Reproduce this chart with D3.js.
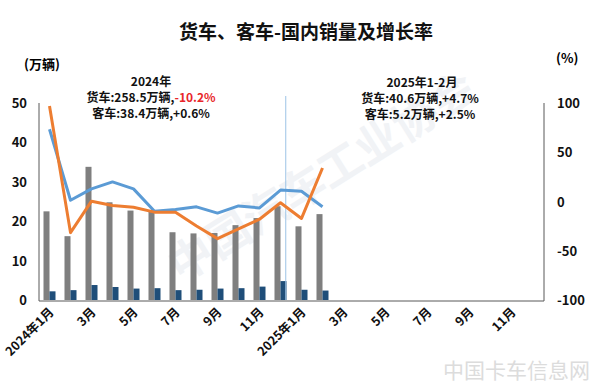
<!DOCTYPE html>
<html lang="zh">
<head>
<meta charset="utf-8">
<title>货车、客车-国内销量及增长率</title>
<script src="https://d3js.org/d3.v7.min.js"></script>
<style>
  body { margin: 0; background: #fff; }
  text { font-family: "Noto Sans CJK SC", "Open Sans", sans-serif; font-weight: bold; }
</style>
</head>
<body>
<script>
// month keys 2024-01 .. 2025-12 and their axis labels
const monthKeys = ["2024-01","2024-02","2024-03","2024-04","2024-05","2024-06","2024-07","2024-08","2024-09","2024-10","2024-11","2024-12",
                   "2025-01","2025-02","2025-03","2025-04","2025-05","2025-06","2025-07","2025-08","2025-09","2025-10","2025-11","2025-12"];
const monthLabels = ["2024年1月","2月","3月","4月","5月","6月","7月","8月","9月","10月","11月","12月",
                     "2025年1月","2月","3月","4月","5月","6月","7月","8月","9月","10月","11月","12月"];
// 货车 sales (万辆)
const truckSales = [22.5, 16.2, 33.8, 24.8, 22.7, 22.4, 17.2, 16.9, 17.0, 19.0, 20.8, 23.8, 18.7, 21.8];
// 客车 sales (万辆)
const busSales = [2.2, 2.5, 3.8, 3.3, 2.9, 3.0, 2.5, 2.6, 2.9, 3.0, 3.4, 4.8, 2.6, 2.4];
// growth rates (%)
const truckGrowth = [97, -31.6, 0.3, -4, -5.8, -10.8, -11, -24.9, -37.7, -27.8, -18, -1.3, -17.2, 34];
const busGrowth = [73.4, 1.3, 12.8, 19.9, 12.8, -10, -8.1, -5.4, -11.8, -4.5, -6.5, 11.6, 10.4, -5.4];
const leftTicks = [0, 10, 20, 30, 40, 50];
const rightTicks = [-100, -50, 0, 50, 100];

const W = 600, H = 386;
const m = {left: 39, right: 543, top: 103, bottom: 300};

const svg = d3.select("body").append("svg")
  .attr("width", W).attr("height", H);

// faint watermarks
svg.append("text")
  .attr("transform", "translate(330,190) rotate(-32)")
  .attr("text-anchor", "middle")
  .attr("font-size", 44)
  .attr("fill", "#f1f3f6")
  .text("中国汽车工业协会");
svg.append("text")
  .attr("x", 590).attr("y", 378)
  .attr("text-anchor", "end")
  .attr("font-size", 21)
  .attr("fill", "#dcdcdc")
  .style("font-weight", "normal")
  .text("中国卡车信息网");

const x = d3.scaleBand().domain(monthKeys).range([m.left, m.right]);
const yL = d3.scaleLinear().domain([0, 50]).range([m.bottom, m.top]);
const yR = d3.scaleLinear().domain([-100, 100]).range([m.bottom, m.top]);
const barW = 6;
const cx = i => x(monthKeys[i]) + x.bandwidth() / 2;

// title
svg.append("text")
  .attr("x", 306).attr("y", 39)
  .attr("text-anchor", "middle")
  .attr("font-size", 19)
  .attr("fill", "#111")
  .text("货车、客车-国内销量及增长率");

svg.append("text").attr("x", 24).attr("y", 69).attr("font-size", 13).text("(万辆)");
svg.append("text").attr("x", 556).attr("y", 63).attr("font-size", 13).text("(%)");

// bars
svg.append("g").selectAll("rect").data(truckSales).join("rect")
  .attr("x", (d, i) => cx(i) - barW)
  .attr("y", d => yL(d))
  .attr("width", barW)
  .attr("height", d => yL(0) - yL(d))
  .attr("fill", "#7f7f7f");
svg.append("g").selectAll("rect").data(busSales).join("rect")
  .attr("x", (d, i) => cx(i))
  .attr("y", d => yL(d))
  .attr("width", barW)
  .attr("height", d => yL(0) - yL(d))
  .attr("fill", "#1f4e79");

// divider between years
const divX = x("2024-12") + x.bandwidth() * 0.75;
svg.append("line")
  .attr("x1", divX).attr("x2", divX)
  .attr("y1", 96).attr("y2", m.bottom)
  .attr("stroke", "#9dc3e6").attr("stroke-width", 1);

// lines
const line = d3.line().x((d, i) => cx(i)).y(d => yR(d));
svg.append("path").datum(busGrowth)
  .attr("d", line).attr("fill", "none")
  .attr("stroke", "#5b9bd5").attr("stroke-width", 3).attr("stroke-linejoin", "round");
svg.append("path").datum(truckGrowth)
  .attr("d", line).attr("fill", "none")
  .attr("stroke", "#ed7d31").attr("stroke-width", 3).attr("stroke-linejoin", "round");

// axes frame
const axisCol = "#595959";
svg.append("line").attr("x1", m.left).attr("x2", m.left).attr("y1", m.top).attr("y2", m.bottom + 1).attr("stroke", axisCol);
svg.append("line").attr("x1", m.right + 1).attr("x2", m.right + 1).attr("y1", m.top).attr("y2", m.bottom + 1).attr("stroke", axisCol);
svg.append("line").attr("x1", m.left).attr("x2", m.right + 1).attr("y1", m.bottom + 1).attr("y2", m.bottom + 1).attr("stroke", axisCol);

// tick labels
svg.append("g").selectAll("text").data(leftTicks).join("text")
  .attr("x", 27).attr("y", d => yL(d) + 5)
  .attr("text-anchor", "end").attr("font-size", 13).attr("fill", "#111")
  .text(d => d);
svg.append("g").selectAll("text").data(rightTicks).join("text")
  .attr("x", 557).attr("y", d => yR(d) + 5)
  .attr("font-size", 13).attr("fill", "#111")
  .text(d => d);
svg.append("g").selectAll("text").data(monthKeys.filter((d, i) => i % 2 === 0)).join("text")
  .attr("transform", d => `translate(${x(d) + x.bandwidth() / 2 + 5},${m.bottom + 13}) rotate(-45)`)
  .attr("text-anchor", "end").attr("font-size", 12.5).attr("fill", "#111")
  .text(d => monthLabels[monthKeys.indexOf(d)]);

// annotations
const ann1 = svg.append("g").attr("font-size", 12).attr("fill", "#111").attr("text-anchor", "middle");
ann1.append("text").attr("x", 151).attr("y", 86).text("2024年");
const t1 = ann1.append("text").attr("x", 151).attr("y", 102);
t1.append("tspan").text("货车:258.5万辆,");
t1.append("tspan").attr("fill", "#e8262a").text("-10.2%");
ann1.append("text").attr("x", 151).attr("y", 118).text("客车:38.4万辆,+0.6%");

const ann2 = svg.append("g").attr("font-size", 12).attr("fill", "#111").attr("text-anchor", "middle");
ann2.append("text").attr("x", 422).attr("y", 87).text("2025年1-2月");
ann2.append("text").attr("x", 420).attr("y", 103).text("货车:40.6万辆,+4.7%");
ann2.append("text").attr("x", 420).attr("y", 119).text("客车:5.2万辆,+2.5%");
</script>
</body>
</html>
